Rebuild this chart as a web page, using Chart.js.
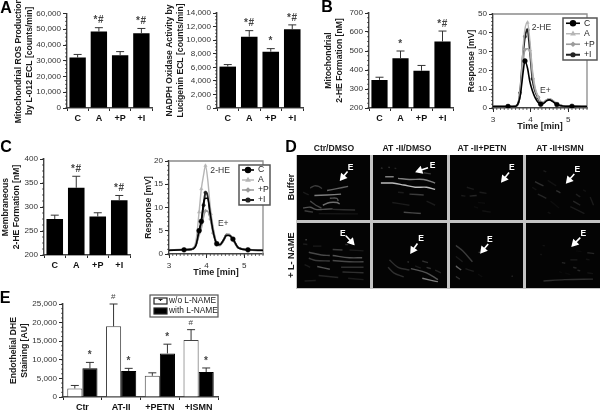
<!DOCTYPE html>
<html>
<head>
<meta charset="utf-8">
<script src="https://cdn.jsdelivr.net/npm/chart.js@4/dist/chart.umd.min.js"></script>
<style>
  html, body { margin: 0; padding: 0; background: #fff; }
  #page { position: relative; width: 600px; height: 410px; overflow: hidden; filter: blur(0.4px); }
  canvas { position: absolute; }
  .txt { position: absolute; font-family: "Liberation Sans", Arial, sans-serif; font-weight: bold; color: #1a1a1a; white-space: nowrap; transform: translate(-50%, -50%); }
  .letter { font-size: 16px; color: #000; }
  .head { font-size: 8.6px; }
  .side { font-size: 9px; transform: translate(-50%, -50%) rotate(-90deg); }
  #gap { position: absolute; left: 296px; top: 155px; width: 304px; height: 134px; background: #c4c4c4; }
</style>
</head>
<body>
<div id="page">
  <div class="txt letter" style="left:6px;top:8px">A</div>
  <div class="txt letter" style="left:327px;top:7px">B</div>
  <div class="txt letter" style="left:6px;top:147px">C</div>
  <div class="txt letter" style="left:291px;top:147px">D</div>
  <div class="txt letter" style="left:5px;top:298px">E</div>
  <div class="txt head" style="left:334px;top:148px">Ctr/DMSO</div>
  <div class="txt head" style="left:407px;top:148px">AT -II/DMSO</div>
  <div class="txt head" style="left:482px;top:148px">AT -II+PETN</div>
  <div class="txt head" style="left:560px;top:148px">AT -II+ISMN</div>
  <div class="txt side" style="left:291px;top:187px">Buffer</div>
  <div class="txt side" style="left:291px;top:255px">+ L- NAME</div>
  <div id="gap"></div>
</div>
<script>
const groups = ['C', 'A', '+P', '+I'];
const groupsE = ['Ctr', 'AT-II', '+PETN', '+ISMN'];
const timeTicks = [3, 4, 5];

// panel A
const rosVals = [32000, 48500, 33500, 47500];
const rosErr = [2000, 2500, 2300, 3000];
const rosSig = ['', '*#', '', '*#'];
const noxVals = [6100, 10500, 8300, 11600];
const noxErr = [300, 900, 450, 650];
const noxSig = ['', '*#', '*', '*#'];

// panel B
const mitoVals = [348, 462, 396, 550];
const mitoErr = [14, 38, 28, 55];
const mitoSig = ['', '*', '', '*#'];
const timeB = [3, 3.4, 3.6, 3.68, 3.72, 3.76, 3.8, 3.85, 3.92, 3.98, 4.05, 4.12, 4.2, 4.27, 4.35, 4.42, 4.5, 4.58, 4.7, 4.85, 5.1, 5.5];
const cB = [0.8, 0.8, 0.9, 3, 6, 12, 19, 25, 21, 14, 9, 5.5, 3, 2, 2.6, 3.8, 4.3, 3.6, 1.8, 1.1, 0.9, 0.8];
const aB = [0.8, 0.8, 1, 3, 8, 18, 32, 42, 45.5, 36, 20, 11, 6, 3.5, 3.2, 4.4, 5, 4.2, 2.2, 1.2, 0.9, 0.8];
const pB = [0.8, 0.8, 1, 3, 7, 15, 24, 31, 31.5, 30.5, 18, 10, 6, 3.2, 3, 4.2, 4.8, 4, 2, 1.2, 0.9, 0.8];
const iB = [0.8, 0.8, 1, 3, 8, 18, 29, 38, 41.5, 31, 15.5, 9, 5.5, 2.8, 2.8, 4, 4.7, 3.9, 2, 1.1, 0.9, 0.8];
const marksCB = [3.4, 3.85, 4.27, 4.7, 5.1];
const marksAB = [3.72, 3.92, 4.2];
const marksPB = [3.85, 3.98, 4.2];
const marksIB = [3.72, 3.85, 3.92, 4.05, 4.2];

// panel C
const memVals = [275, 340, 280, 314];
const memErr = [8, 24, 8, 10];
const memSig = ['', '*#', '', '*#'];
const timeC = [3, 3.4, 3.6, 3.72, 3.8, 3.86, 3.92, 3.97, 4.03, 4.1, 4.17, 4.27, 4.35, 4.45, 4.53, 4.6, 4.7, 4.85, 5.1, 5.5];
const cC = [0.8, 0.9, 1, 2, 5, 7, 11, 12, 12, 8.5, 5, 2.2, 2, 3, 4, 4, 3.2, 1.3, 0.9, 0.8];
const aC = [0.8, 0.9, 1, 3, 9, 14, 17, 19, 16, 10, 6, 2.5, 2.2, 3, 4.2, 4.3, 3, 1.3, 0.9, 0.8];
const pC = [0.8, 0.9, 1, 2, 4, 5.5, 8, 9.3, 9.2, 7.5, 4.5, 2.2, 1.8, 2.8, 4, 4.2, 3, 1.3, 0.9, 0.8];
const iC = [0.8, 0.9, 1, 2, 5, 7, 10.5, 13.2, 12.5, 8.5, 5.2, 2.2, 2, 3, 4.2, 4.1, 3.2, 1.3, 0.9, 0.8];
const marksCC = [3.4, 3.8, 3.86, 4.27, 4.7, 5.1];
const marksAC = [3.8, 3.86, 3.97];
const marksPC = [3.97, 4.1, 4.17];
const marksIC = [3.92, 3.97, 4.1];

// panel E
const woVals = [2300, 19000, 5700, 15300];
const woErr = [800, 6000, 800, 2800];
const woSig = ['', '#', '', '#'];
const withVals = [7700, 7000, 11700, 6700];
const withErr = [1600, 700, 2500, 1100];
const withSig = ['*', '*', '*', '*'];

const streaks1 = [[.6,45,130,90,128,140,125],[.5,90,112,125,105,165,97],[.35,30,103,45,95,60,97,72,105],[.55,75,165,100,155,125,155,135,160],[.45,100,140,125,140,130,150],[.45,5,175,30,172,50,180,75,180,110,178],[.35,10,185,40,190],[.3,110,180,190,182],[.2,60,196,200,197],[.2,5,118,25,128],[.4,30,150,50,165,70,175]];
const streaks2 = [[.8,240,85,280,85,320,92,360,100,400,100,430,108],[.6,255,62,285,62],[.6,300,68,340,72,390,72,430,85],[.35,340,125,390,128],[.4,320,190,380,195],[.2,300,118,320,120],[.35,390,48,415,52],[.3,240,30,246,32],[.3,266,28,272,29],[.25,288,31,294,33],[.2,400,150,430,165],[.2,280,155,340,165]];
const streaks3 = [[.2,45,100,70,108],[.2,25,130,40,132],[.25,55,132,80,130],[.2,90,118,115,122],[.12,85,155,110,158],[.12,70,170,85,175],[.15,100,185,130,190]];
const streaks4 = [[.3,245,80,275,95],[.25,255,125,285,140],[.3,320,112,335,120],[.25,380,150,405,165],[.22,390,125,405,135],[.2,275,40,285,45],[.15,290,75,320,95],[.15,235,100,250,110],[.2,370,170,420,195],[.2,440,135,452,165],[.15,290,190,300,195],[.15,415,110,425,115],[.12,300,150,330,175]];
const streaks5 = [[.4,25,90,70,100,100,102],[.45,110,102,170,110,215,110],[.35,110,80,145,82],[.2,170,82,220,85],[.35,25,112,50,120,100,122],[.4,110,120,170,125,220,125],[.45,55,142,100,152],[.3,140,145,220,145],[.3,145,162,220,165],[.4,13,44,18,45],[.2,5,60,20,62],[.2,40,68,70,68],[.3,155,62,165,62],[.25,60,175,130,182],[.2,165,185,220,190],[.2,10,195,50,193],[.2,10,135,30,145]];
const streaks6 = [[.3,265,145,285,165,320,180],[.3,270,118,300,145,340,155],[.45,345,150,400,165,440,190],[.6,385,185,440,198],[.3,385,122,405,128],[.3,333,124,338,127],[.3,400,145,415,150],[.25,430,155,450,165],[.2,360,140,380,148]];
const streaks7 = [[.35,5,65,30,85,65,125],[.5,5,140,25,155],[.2,5,105,30,125],[.2,40,150,70,160],[.35,87,90,92,91],[.3,5,178,20,188],[.25,204,177,209,178],[.12,85,170,100,180]];
const streaks8 = [[.3,275,195,350,190,450,188],[.25,430,92,455,95],[.25,340,128,352,130],[.2,370,118,395,118],[.25,395,155,405,158],[.25,380,145,392,148],[.15,425,115,438,118],[.15,272,65,280,67],[.15,263,98,270,99],[.15,430,165,450,168],[.1,330,160,340,165],[.1,390,85,410,88],[.1,350,165,370,172]];
const arrowsD = [[163,43,146,64],[405,30,376,40],[195,47,177,70],[384,52,365,74],[157,30,177,52],[368,58,352,82],[121,60,103,82],[405,37,385,58]];
const labelsD = [[174,30],[421,21],[205,30],[395,36],[146,22],[381,42],[127,43],[416,21]];

const SANS = '"Liberation Sans", Arial, sans-serif';
const INK = '#2a2a2a';
const page = document.getElementById('page');

function addCanvas(box) {
  const c = document.createElement('canvas');
  c.width = box.x1 - box.x0;
  c.height = box.y1 - box.y0;
  c.style.left = box.x0 + 'px';
  c.style.top = box.y0 + 'px';
  c.style.width = c.width + 'px';
  c.style.height = c.height + 'px';
  page.appendChild(c);
  return c.getContext('2d');
}

// minor tick marks, Chart.js only does one tick length per scale
function minorTicks(yStep, xStep) {
  return {
    id: 'minorTicks',
    afterDraw(chart) {
      const ctx = chart.ctx;
      ctx.save();
      ctx.strokeStyle = INK;
      ctx.lineWidth = 0.7;
      const ys = chart.scales.y;
      if (yStep) for (let v = ys.min; v <= ys.max + 1e-6; v += yStep) {
        const p = ys.getPixelForValue(v);
        ctx.beginPath(); ctx.moveTo(ys.right - 2, p); ctx.lineTo(ys.right, p); ctx.stroke();
      }
      const xs = chart.scales.x;
      if (xStep) for (let v = xs.min; v <= xs.max + 1e-6; v += xStep) {
        const p = xs.getPixelForValue(v);
        ctx.beginPath(); ctx.moveTo(p, xs.top); ctx.lineTo(p, xs.top + 2); ctx.stroke();
      }
      ctx.restore();
    }
  };
}

// upward error bars and significance marks, from dataset.err / dataset.sig
const errorBars = {
  id: 'errorBars',
  afterDatasetsDraw(chart) {
    const ctx = chart.ctx, ys = chart.scales.y;
    ctx.save();
    chart.data.datasets.forEach((ds, d) => {
      chart.getDatasetMeta(d).data.forEach((bar, i) => {
        const top = ys.getPixelForValue(ds.data[i] + ds.err[i]);
        ctx.strokeStyle = '#333';
        ctx.lineWidth = 1;
        ctx.beginPath();
        ctx.moveTo(bar.x, bar.y); ctx.lineTo(bar.x, top);
        ctx.moveTo(bar.x - 4, top); ctx.lineTo(bar.x + 4, top);
        ctx.stroke();
        if (ds.sig[i]) {
          ctx.fillStyle = '#444';
          ctx.textAlign = 'center';
          ctx.textBaseline = 'middle';
          ctx.letterSpacing = '0.6px';
          ctx.font = ds.sigFont || ('bold 10px ' + SANS);
          ctx.fillText(ds.sig[i], bar.x, top - 7);
        }
      });
    });
    ctx.restore();
  }
};

function axisCommon(box, plot, title, yMin, yMax, yStep) {
  return {
    responsive: false,
    animation: false,
    maintainAspectRatio: false,
    devicePixelRatio: 1,
    layout: { padding: { top: plot.t - box.y0, right: box.x1 - plot.r, left: 0, bottom: 0 } },
    plugins: { legend: { display: false }, tooltip: { enabled: false } },
    scales: {
      y: {
        min: yMin, max: yMax,
        afterFit(s) { s.width = plot.l - box.x0; },
        grid: { drawOnChartArea: false, color: INK, tickLength: 4 },
        border: { color: '#444', width: 1.4 },
        ticks: {
          stepSize: yStep, padding: 2, color: '#333',
          font: { family: SANS, size: 8.1 },
          callback: v => v.toLocaleString('en-US')
        },
        title: {
          display: true, text: title, color: '#1a1a1a', padding: 0,
          font: { family: SANS, size: 8.6, weight: 'bold', lineHeight: 1.25 }
        }
      }
    }
  };
}

function barChart(box, plot, title, labels, datasets, yMin, yMax, yStep, extra) {
  const opts = axisCommon(box, plot, title, yMin, yMax, yStep);
  opts.scales.x = {
    afterFit(s) { s.height = box.y1 - plot.b; },
    grid: { drawOnChartArea: false, color: INK, tickLength: 3 },
    border: { color: '#444', width: 1.4 },
    ticks: { color: '#111', padding: 2, font: { family: SANS, size: 9, weight: 'bold' }, autoSkip: false, maxRotation: 0 }
  };
  return new Chart(addCanvas(box), {
    type: 'bar',
    data: { labels, datasets },
    options: opts,
    plugins: [errorBars, minorTicks(yStep / 4, 0)].concat(extra || [])
  });
}

function single(values, err, sig) {
  return { data: values, err, sig, backgroundColor: '#000', barPercentage: 1, categoryPercentage: 0.77 };
}

function series(times, values, marks, style) {
  return {
    data: times.map((t, i) => ({ x: t, y: values[i] })),
    showLine: true,
    cubicInterpolationMode: 'monotone',
    pointRadius: ctx => marks.includes(times[ctx.dataIndex]) ? style.size : 0,
    pointBackgroundColor: style.color,
    pointBorderColor: style.color,
    pointBorderWidth: 0.5,
    borderColor: style.color,
    borderWidth: style.width,
    pointStyle: style.shape
  };
}

const styleC = { color: '#000', width: 1.6, size: 2.4, shape: 'circle', name: 'C' };
const styleA = { color: '#b5b5b5', width: 1.4, size: 1.9, shape: 'triangle', name: 'A' };
const styleP = { color: '#9c9c9c', width: 1.6, size: 1.7, shape: 'rectRot', name: '+P' };
const styleI = { color: '#222', width: 2, size: 1.6, shape: 'circle', name: '+I' };

// grey frame, peak labels and line legend for the chromatograms
function chromaExtras(box, notes, lg) {
  return {
    id: 'chromaExtras',
    beforeDatasetsDraw(chart) {
      const a = chart.chartArea, ctx = chart.ctx;
      ctx.save();
      ctx.strokeStyle = '#8a8a8a';
      ctx.lineWidth = 1.3;
      ctx.beginPath();
      ctx.moveTo(a.left, a.top); ctx.lineTo(a.right, a.top); ctx.lineTo(a.right, a.bottom);
      ctx.stroke();
      ctx.restore();
    },
    afterDraw(chart) {
      const ctx = chart.ctx;
      ctx.save();
      ctx.fillStyle = '#333';
      ctx.font = '8.6px ' + SANS;
      ctx.textBaseline = 'middle';
      ctx.textAlign = 'left';
      notes.forEach(n => ctx.fillText(n.text, chart.scales.x.getPixelForValue(n.x), chart.scales.y.getPixelForValue(n.y)));
      const L = lg.x0 - box.x0, T = lg.y0 - box.y0, W = lg.x1 - lg.x0, H = lg.y1 - lg.y0;
      ctx.fillStyle = '#fff';
      ctx.fillRect(L, T, W, H);
      ctx.strokeStyle = '#555';
      ctx.lineWidth = 1.5;
      ctx.strokeRect(L, T, W, H);
      [styleC, styleA, styleP, styleI].forEach((s, i) => {
        const y = T + H * (i + 0.5) / 4;
        ctx.strokeStyle = s.color;
        ctx.lineWidth = s.width;
        ctx.beginPath(); ctx.moveTo(L + 3, y); ctx.lineTo(L + lg.line, y); ctx.stroke();
        ctx.fillStyle = s.color;
        Chart.helpers.drawPoint(ctx, { pointStyle: s.shape, radius: s.size, rotation: 0, borderWidth: 0.5 }, L + 3 + (lg.line - 3) / 2, y);
        ctx.fillStyle = '#222';
        ctx.fillText(s.name, L + lg.line + 4, y);
      });
      ctx.restore();
    }
  };
}

function chromaChart(box, plot, times, sets, marks, yMax, yStep, minorY, notes, lg) {
  const opts = axisCommon(box, plot, 'Response [mV]', 0, yMax, yStep);
  opts.scales.x = {
    type: 'linear', min: 3, max: 5.5,
    afterFit(s) { s.height = box.y1 - plot.b; },
    afterBuildTicks(s) { s.ticks = timeTicks.map(v => ({ value: v })); },
    grid: { drawOnChartArea: false, color: INK, tickLength: 4 },
    border: { color: '#444', width: 1.4 },
    ticks: { autoSkip: false, maxRotation: 0, padding: 3, color: '#333', font: { family: SANS, size: 8.1 } },
    title: { display: true, text: 'Time [min]', color: '#1a1a1a', padding: { top: 2, bottom: 0 }, font: { family: SANS, size: 9, weight: 'bold' } }
  };
  const styles = [styleC, styleA, styleP, styleI];
  return new Chart(addCanvas(box), {
    type: 'scatter',
    data: { datasets: sets.map((v, i) => series(times, v, marks[i], styles[i])) },
    options: opts,
    plugins: [minorTicks(minorY, 0.1), chromaExtras(box, notes, lg)]
  });
}

// bar charts
barChart({ x0: 13, y0: 0, x1: 156, y1: 126 }, { l: 67, r: 152, t: 13.5, b: 108 },
  ['Mitochondrial ROS Production', 'by L-012 ECL [counts/min]'], groups, [single(rosVals, rosErr, rosSig)], 0, 60000, 10000);
barChart({ x0: 164, y0: 0, x1: 306, y1: 126 }, { l: 217, r: 303, t: 13, b: 108 },
  ['NADPH Oxidase Activity by', 'Lucigenin ECL [counts/min]'], groups, [single(noxVals, noxErr, noxSig)], 0, 14000, 2000);
barChart({ x0: 323, y0: 0, x1: 457, y1: 126 }, { l: 369, r: 453, t: 13, b: 108 },
  ['Mitochondrial', '2-HE Formation [nM]'], groups, [single(mitoVals, mitoErr, mitoSig)], 200, 700, 100);
barChart({ x0: 0, y0: 150, x1: 134, y1: 272 }, { l: 44, r: 130, t: 159, b: 255 },
  ['Membraneous', '2-HE Formation [nM]'], groups, [single(memVals, memErr, memSig)], 200, 400, 50);

// panel E legend
const legendE = {
  id: 'legendE',
  afterDraw(chart) {
    const ctx = chart.ctx, L = 150 - 8, T = 295 - 288;
    ctx.save();
    ctx.fillStyle = '#fff';
    ctx.fillRect(L, T, 68, 22);
    ctx.strokeStyle = '#555';
    ctx.lineWidth = 1.2;
    ctx.strokeRect(L, T, 68, 22);
    chart.data.datasets.forEach((ds, i) => {
      const y = T + 6 + i * 10;
      ctx.fillStyle = ds.backgroundColor;
      ctx.strokeStyle = '#222';
      ctx.fillRect(L + 4, y - 3, 13, 6);
      ctx.strokeRect(L + 4, y - 3, 13, 6);
      ctx.fillStyle = '#222';
      ctx.font = '8.4px ' + SANS;
      ctx.textBaseline = 'middle';
      ctx.textAlign = 'left';
      ctx.fillText(ds.label, L + 19, y);
    });
    ctx.beginPath();
    ctx.moveTo(L + 10.5, T + 6); ctx.lineTo(L + 10.5, T + 4.5);
    ctx.moveTo(L + 8.5, T + 4.5); ctx.lineTo(L + 12.5, T + 4.5);
    ctx.stroke();
    ctx.restore();
  }
};
barChart({ x0: 8, y0: 288, x1: 225, y1: 410 }, { l: 63, r: 218, t: 304, b: 397 },
  ['Endothelial DHE', 'Staining [AU]'], groupsE, [
    { label: 'w/o L-NAME', data: woVals, err: woErr, sig: woSig, sigFont: '8px ' + SANS, backgroundColor: '#fff', borderColor: '#444', borderWidth: 1, barPercentage: 1, categoryPercentage: 0.78 },
    { label: 'with L-NAME', data: withVals, err: withErr, sig: withSig, backgroundColor: '#000', borderColor: '#000', borderWidth: 1, barPercentage: 1, categoryPercentage: 0.78 }
  ], 0, 25000, 5000, [legendE]);

// chromatograms
chromaChart({ x0: 466, y0: 5, x1: 600, y1: 132 }, { l: 493, r: 587, t: 14, b: 108 }, timeB, [cB, aB, pB, iB],
  [marksCB, marksAB, marksPB, marksIB], 50, 10, 2,
  [{ text: '2-HE', x: 4.03, y: 43 }, { text: 'E+', x: 4.25, y: 9.5 }],
  { x0: 563, y0: 18, x1: 597, y1: 60, line: 17 });
chromaChart({ x0: 143, y0: 150, x1: 275, y1: 278 }, { l: 169, r: 263, t: 161, b: 254 }, timeC, [cC, aC, pC, iC],
  [marksCC, marksAC, marksPC, marksIC], 20, 5, 1,
  [{ text: '2-HE', x: 4.1, y: 18 }, { text: 'E+', x: 4.3, y: 6.5 }],
  { x0: 239, y0: 165, x1: 270, y1: 205, line: 15 });

// micrographs
const panelBoxes = [
  { px: 297, py: 155, pw: 73, ph: 65, xa: 3, xb: 223, ya: 4, yb: 198 },
  { px: 373, py: 155, pw: 74, ph: 65, xa: 232, xb: 452, ya: 4, yb: 198 },
  { px: 450, py: 155, pw: 73, ph: 65, xa: 5, xb: 225, ya: 4, yb: 198 },
  { px: 526, py: 155, pw: 74, ph: 65, xa: 233, xb: 455, ya: 4, yb: 198 },
  { px: 297, py: 223, pw: 73, ph: 65, xa: 3, xb: 223, ya: 4, yb: 200 },
  { px: 373, py: 223, pw: 74, ph: 65, xa: 232, xb: 452, ya: 4, yb: 200 },
  { px: 450, py: 223, pw: 73, ph: 65, xa: 5, xb: 225, ya: 4, yb: 200 },
  { px: 526, py: 223, pw: 74, ph: 65, xa: 233, xb: 455, ya: 4, yb: 200 }
];
const allStreaks = [streaks1, streaks2, streaks3, streaks4, streaks5, streaks6, streaks7, streaks8];

function micrograph(i) {
  const b = panelBoxes[i], arrow = arrowsD[i], lab = labelsD[i];
  const ctx = addCanvas({ x0: b.px, y0: b.py, x1: b.px + b.pw, y1: b.py + b.ph });
  ctx.canvas.style.filter = 'blur(0.6px)';
  const sets = allStreaks[i].map(s => {
    const pts = [];
    for (let k = 1; k < s.length; k += 2) pts.push({ x: s[k], y: s[k + 1] });
    const g = Math.round(255 * Math.pow(s[0], 1.4));
    return { data: pts, showLine: true, tension: 0.35, pointRadius: 0, borderWidth: 1.4, borderColor: `rgb(${g},${g},${g})` };
  });
  const angle = Math.atan2(arrow[3] - arrow[1], arrow[2] - arrow[0]) * 180 / Math.PI + 90;
  sets.push({
    data: [{ x: arrow[0], y: arrow[1] }, { x: arrow[2], y: arrow[3] }],
    showLine: true, borderColor: '#fff', borderWidth: 1.6,
    pointRadius: [0, 3.2], pointStyle: 'triangle', pointRotation: angle,
    pointBackgroundColor: '#fff', pointBorderColor: '#fff'
  });
  new Chart(ctx, {
    type: 'scatter',
    data: { datasets: sets },
    options: {
      responsive: false, animation: false, devicePixelRatio: 1,
      layout: { padding: 0 },
      plugins: { legend: { display: false }, tooltip: { enabled: false } },
      scales: {
        x: { display: false, min: b.xa, max: b.xb },
        y: { display: false, min: b.ya, max: b.yb, reverse: true }
      }
    },
    plugins: [{
      id: 'darkField',
      beforeDraw(chart) {
        chart.ctx.fillStyle = '#040404';
        chart.ctx.fillRect(0, 0, chart.width, chart.height);
      },
      afterDraw(chart) {
        const c = chart.ctx;
        c.fillStyle = '#fff';
        c.font = 'bold 8.5px ' + SANS;
        c.textAlign = 'center';
        c.textBaseline = 'middle';
        c.fillText('E', chart.scales.x.getPixelForValue(lab[0]), chart.scales.y.getPixelForValue(lab[1]));
      }
    }]
  });
}
allStreaks.forEach((s, i) => micrograph(i));
</script>
</body>
</html>
